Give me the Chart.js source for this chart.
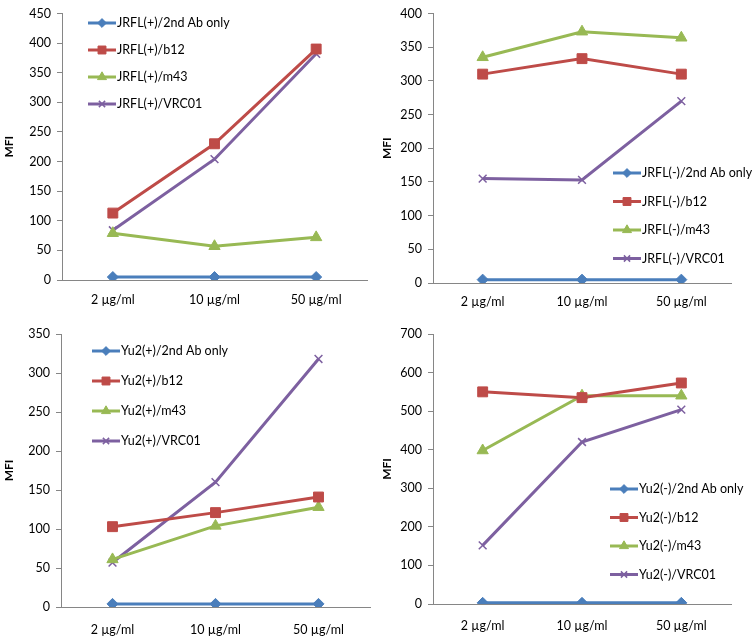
<!DOCTYPE html>
<html>
<head>
<meta charset="utf-8">
<script src="https://cdn.jsdelivr.net/npm/chart.js@4"></script>
<style>
  html, body { margin: 0; padding: 0; background: #fff; }
  #wrap { position: relative; width: 756px; height: 636px; }
  .panel { position: absolute; width: 378px; height: 318px; }
</style>
</head>
<body>
<div id="wrap">
  <div class="panel" style="left:0;top:0"><canvas id="c1"></canvas></div>
  <div class="panel" style="left:378px;top:0"><canvas id="c2"></canvas></div>
  <div class="panel" style="left:0;top:318px"><canvas id="c3"></canvas></div>
  <div class="panel" style="left:378px;top:318px"><canvas id="c4"></canvas></div>
</div>
<script>
const categories = ['2 µg/ml', '10 µg/ml', '50 µg/ml'];

// JRFL(+)
const jrflPosAb2 = [5, 5, 5];
const jrflPosB12 = [113, 230, 390];
const jrflPosM43 = [79, 57, 72];
const jrflPosVrc01 = [84, 204, 382];

// JRFL(-)
const jrflNegAb2 = [5, 5, 5];
const jrflNegB12 = [310, 333, 310];
const jrflNegM43 = [335, 373, 364];
const jrflNegVrc01 = [155, 153, 270];

// Yu2(+)
const yu2PosAb2 = [4, 4, 4];
const yu2PosB12 = [103, 121, 141];
const yu2PosM43 = [61, 104, 128];
const yu2PosVrc01 = [57, 160, 318];

// Yu2(-)
const yu2NegAb2 = [3, 3, 3];
const yu2NegB12 = [550, 535, 573];
const yu2NegM43 = [398, 540, 540];
const yu2NegVrc01 = [152, 420, 504];

const yMax = [450, 400, 350, 700];
const yStep = [50, 50, 50, 100];

const FONT = 'Lato, "Open Sans", sans-serif';
const FS = 12.5;
const AXIS = '#868686';
const styles = [
    { color: '#4A7EBB', pointStyle: 'rectRot', r: 5.5 },
    { color: '#BE4B48', pointStyle: 'rect', r: 7 },
    { color: '#98B954', pointStyle: 'triangle', r: 6.5 },
    { color: '#7D60A0', pointStyle: 'crossRot', r: 5.5 }
];

// legend drawn inside the plot, like the original
const insideLegend = {
    id: 'insideLegend',
    afterDatasetsDraw(chart, args, opts) {
        const ctx = chart.ctx;
        ctx.save();
        ctx.font = FS + 'px ' + FONT;
        ctx.textBaseline = 'middle';
        chart.data.datasets.forEach((ds, i) => {
            const y = opts.y + i * opts.dy;
            ctx.strokeStyle = ds.borderColor;
            ctx.lineWidth = 3;
            ctx.beginPath();
            ctx.moveTo(opts.x, y);
            ctx.lineTo(opts.x + 28, y);
            ctx.stroke();
            ctx.fillStyle = ds.borderColor;
            ctx.lineWidth = ds.pointBorderWidth;
            Chart.helpers.drawPoint(ctx, {
                pointStyle: ds.pointStyle,
                rotation: 0,
                borderWidth: ds.pointBorderWidth,
                radius: ds.pointRadius * 0.8
            }, opts.x + 14, y);
            ctx.fillStyle = '#000';
            ctx.fillText(ds.label, opts.x + 29, y);
        });
        ctx.restore();
    }
};

function makeChart(id, prefix, series, idx, area, legend) {
    const names = ['2nd Ab only', 'b12', 'm43', 'VRC01'];
    const datasets = series.map((vals, i) => ({
        label: prefix + '/' + names[i],
        data: vals,
        borderColor: styles[i].color,
        backgroundColor: styles[i].color,
        pointStyle: styles[i].pointStyle,
        pointRadius: styles[i].r,
        pointBorderWidth: i === 3 ? 1.5 : 1,
        pointHoverRadius: styles[i].r,
        borderWidth: 3,
        tension: 0
    }));
    return new Chart(document.getElementById(id), {
        type: 'line',
        data: { labels: categories, datasets },
        plugins: [insideLegend],
        options: {
            responsive: false,
            animation: false,
            devicePixelRatio: 1,
            layout: { padding: { left: 0, right: 378 - area.right, top: area.top, bottom: 0 } },
            plugins: {
                legend: { display: false },
                tooltip: { enabled: false },
                insideLegend: legend
            },
            scales: {
                x: {
                    offset: true,
                    grid: { display: false },
                    border: { display: true, color: AXIS, width: 1 },
                    ticks: { color: '#000', font: { family: FONT, size: FS }, padding: area.lab, maxRotation: 0 },
                    afterFit(s) { s.height = 318 - area.bottom; }
                },
                y: {
                    min: 0,
                    max: yMax[idx],
                    ticks: { stepSize: yStep[idx], color: '#000', font: { family: FONT, size: FS }, padding: 6 },
                    grid: { drawOnChartArea: false, drawTicks: true, tickLength: 5, color: AXIS },
                    border: { display: true, color: AXIS, width: 1 },
                    title: { display: true, text: 'MFI', color: '#000', font: { family: FONT, size: 12, weight: 'bold' }, padding: 2 },
                    afterFit(s) { s.width = area.left; }
                }
            }
        }
    });
}

function sizeCanvas(id) {
    const c = document.getElementById(id);
    c.width = 378; c.height = 318;
    c.style.width = '378px'; c.style.height = '318px';
}
['c1', 'c2', 'c3', 'c4'].forEach(sizeCanvas);

makeChart('c1', 'JRFL(+)', [jrflPosAb2, jrflPosB12, jrflPosM43, jrflPosVrc01], 0,
    { left: 62, right: 367, top: 8, bottom: 280, lab: 4 }, { x: 88, y: 23, dy: 27 });
makeChart('c2', 'JRFL(-)', [jrflNegAb2, jrflNegB12, jrflNegM43, jrflNegVrc01], 1,
    { left: 55, right: 353, top: 12, bottom: 283, lab: 3 }, { x: 235, y: 173, dy: 28.5 });
makeChart('c3', 'Yu2(+)', [yu2PosAb2, yu2PosB12, yu2PosM43, yu2PosVrc01], 2,
    { left: 61, right: 376, top: 16, bottom: 289, lab: 7 }, { x: 92, y: 33, dy: 30 });
makeChart('c4', 'Yu2(-)', [yu2NegAb2, yu2NegB12, yu2NegM43, yu2NegVrc01], 3,
    { left: 55, right: 353, top: 16, bottom: 286, lab: 6 }, { x: 232, y: 171, dy: 28.5 });
</script>
</body>
</html>
